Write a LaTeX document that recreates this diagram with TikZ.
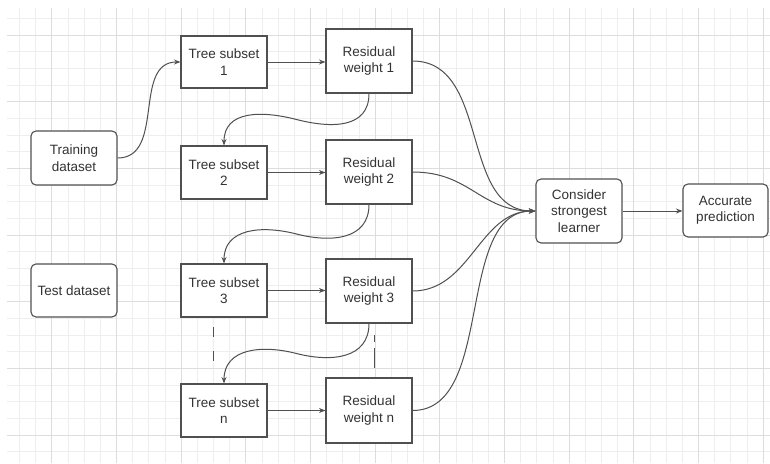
\documentclass[tikz,border=0pt]{standalone}
\usepackage{fontspec}
\setmainfont{Liberation Sans}
\usetikzlibrary{arrows.meta,calc}
\definecolor{txt}{HTML}{333333}
\definecolor{edgec}{HTML}{505050}
\definecolor{gminor}{HTML}{EEEEEE}
\definecolor{gmajor}{HTML}{DDDDDD}
\begin{document}
\begin{tikzpicture}[x=1pt,y=-1pt,
  box/.style={draw=edgec, line width=1.1pt, fill=white, text=txt, align=center,
    minimum width=86pt, inner sep=0pt, font=\fontsize{13.5}{16.5}\selectfont},
  rbox/.style={box, rounded corners=5pt},
  conn/.style={draw=edgec, line width=1pt, -{Stealth[length=6.5pt,width=5pt]}},
  plain/.style={draw=edgec, line width=1pt},
  gridminor/.style={draw=gminor, line width=0.6pt},
  gridmajor/.style={draw=gmajor, line width=0.8pt}]
\fill[white] (0,0) rectangle (770,463);
\useasboundingbox (0,0) rectangle (770,463);
% grid
\foreach \i in {0,...,46}{
  \pgfmathsetmacro\xx{19.37+16.165*\i}
  \draw[gridminor] (\xx,8) -- (\xx,463);
}
\foreach \j in {0,...,26}{
  \pgfmathsetmacro\yy{18.33+16.667*\j}
  \draw[gridminor] (7,\yy) -- (770,\yy);
}
\foreach \i in {0,...,11}{
  \pgfmathsetmacro\xx{51.7+64.66*\i}
  \draw[gridmajor] (\xx,8) -- (\xx,463);
}
\foreach \j in {0,...,6}{
  \pgfmathsetmacro\yy{35+66.667*\j}
  \draw[gridmajor] (7,\yy) -- (770,\yy);
}
% nodes
\node[rbox, minimum height=54pt] (train) at (74,158) {Training\\dataset};
\node[rbox, minimum height=53pt] (test) at (74,290.5) {Test dataset};
\node[box, minimum height=52pt] (ts1) at (224,62) {Tree subset\\1};
\node[box, minimum height=53pt] (ts2) at (224,172.5) {Tree subset\\2};
\node[box, minimum height=53pt] (ts3) at (224,290.5) {Tree subset\\3};
\node[box, minimum height=53pt] (tsn) at (224,410.5) {Tree subset\\n};
\node[box, minimum height=64pt] (rw1) at (369,61) {Residual\\weight 1};
\node[box, minimum height=64pt] (rw2) at (369,172) {Residual\\weight 2};
\node[box, minimum height=64pt] (rw3) at (369,291) {Residual\\weight 3};
\node[box, minimum height=65pt] (rwn) at (369,410.5) {Residual\\weight n};
\node[rbox, minimum height=64pt] (cons) at (579,211) {Consider\\strongest\\learner};
\node[rbox, minimum height=53pt, minimum width=85pt] (acc) at (725.5,210.5) {Accurate\\prediction};
% dashed continuation marks
\coordinate (d1a) at (213,327); \coordinate (d1b) at (213,362);
\coordinate (d2a) at (374,335); \coordinate (d2b) at (374,368);
\draw[plain, dash pattern=on 10pt off 14pt] (d1a) -- (d1b);
\draw[plain, dash pattern=on 7pt off 6pt on 20pt off 6pt] (d2a) -- (d2b);
% connectors
\draw[conn] (train.east) .. controls +(48,0) and +(-48,0) .. (ts1.west);
\draw[conn] (ts1.east) -- (ts1.east -| rw1.west);
\draw[conn] (ts2.east) -- (ts2.east -| rw2.west);
\draw[conn] (ts3.east) -- (ts3.east -| rw3.west);
\draw[conn] (tsn.east) -- (tsn.east -| rwn.west);
\draw[conn] (rw1.south) .. controls +(0,35) and +(35,9) .. ($(rw1.south)!0.5!(ts2.north)$)
  .. controls +(-35,-9) and +(0,-35) .. (ts2.north);
\draw[conn] (rw2.south) .. controls +(0,35) and +(35,9) .. ($(rw2.south)!0.5!(ts3.north)$)
  .. controls +(-35,-9) and +(0,-35) .. (ts3.north);
\draw[conn] (rw3.south) .. controls +(0,35) and +(35,9) .. ($(rw3.south)!0.5!(tsn.north)$)
  .. controls +(-35,-9) and +(0,-35) .. (tsn.north);
\draw[conn] (rw1.east) .. controls +(78,0) and +(-76,0) .. (cons.west);
\draw[conn] (rw2.east) .. controls +(58,0) and +(-56,0) .. (cons.west);
\draw[conn] (rw3.east) .. controls +(58,0) and +(-56,0) .. (cons.west);
\draw[conn] (rwn.east) .. controls +(83,0) and +(-81,0) .. (cons.west);
\draw[conn] (cons.east) -- (cons.east -| acc.west);
\end{tikzpicture}
\end{document}
